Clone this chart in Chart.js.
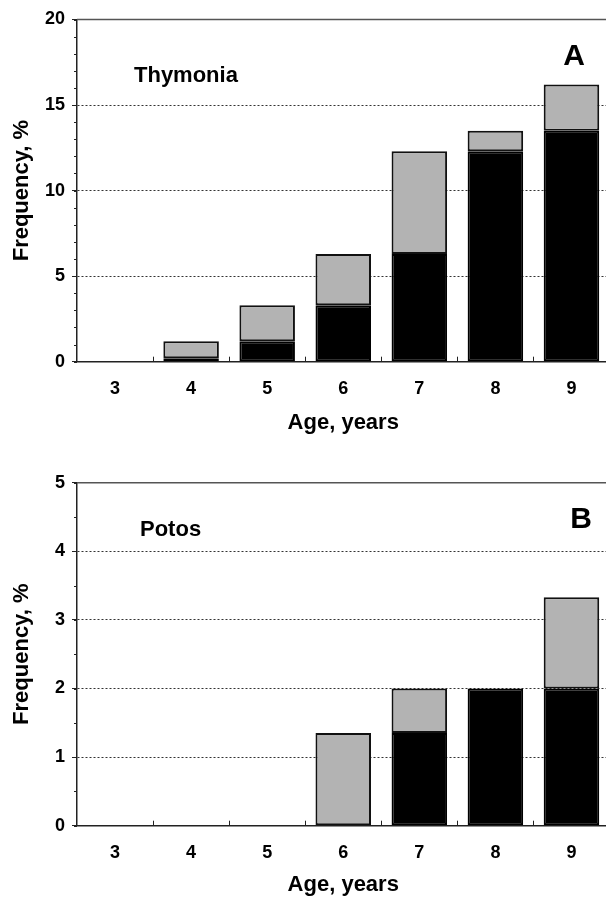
<!DOCTYPE html>
<html lang="en">
<head>
<meta charset="utf-8">
<title>Frequency by age</title>
<script src="https://cdn.jsdelivr.net/npm/chart.js@4.4.1/dist/chart.umd.min.js"></script>
<style>
  html, body { margin: 0; padding: 0; background: #fff; overflow: hidden; }
  canvas { display: block; }
</style>
</head>
<body>
<canvas id="chartA" width="612" height="440"></canvas>
<canvas id="chartB" width="612" height="461"></canvas>
<script>
const ages = ['3', '4', '5', '6', '7', '8', '9'];

// Panel A - Thymonia (black = lower part, grey = upper part of the stack)
const thymoniaBlack = [0, 0.2, 1.2, 3.3, 6.3, 12.3, 13.5];
const thymoniaGrey = [0, 1.0, 2.1, 3.0, 6.0, 1.2, 2.7];
const thymoniaTicks = [0, 5, 10, 15, 20];

// Panel B - Potos
const potosBlack = [0, 0, 0, 0, 1.35, 2.0, 2.0];
const potosGrey = [0, 0, 0, 1.35, 0.65, 0, 1.33];
const potosTicks = [0, 1, 2, 3, 4, 5];

(function() {
    'use strict';

    const FONT = '"Liberation Sans", Arial, Helvetica, sans-serif';

    document.addEventListener('DOMContentLoaded', () => {
        Chart.defaults.font.family = FONT;
        Chart.defaults.color = '#000';

        initChart('chartA', thymoniaBlack, thymoniaGrey, thymoniaTicks, {
            name: 'Thymonia', letter: 'A', minorStep: 1,
            top: 19.5, xHeight: 78.3, xTitlePad: 5.6,
            nameX: 57, nameY: 62.2, letterX: 35.5, letterY: 45.5
        });

        initChart('chartB', potosBlack, potosGrey, potosTicks, {
            name: 'Potos', letter: 'B', minorStep: 0.5,
            top: 42.7, xHeight: 75.3, xTitlePad: 4.6,
            nameX: 63, nameY: 53.3, letterX: 28.5, letterY: 45.6
        });
    });

    // top frame line, minor ticks, category ticks and panel labels
    const framePlugin = {
        id: 'frame',
        afterDraw(chart, args, opts) {
            const { ctx, chartArea: area, scales: { x, y } } = chart;
            ctx.save();

            ctx.strokeStyle = '#555';
            ctx.lineWidth = 1.5;
            ctx.beginPath();
            ctx.moveTo(area.left, area.top);
            ctx.lineTo(area.right, area.top);
            ctx.stroke();

            ctx.strokeStyle = '#222';
            ctx.lineWidth = 1;
            for (let v = y.min; v <= y.max + 1e-9; v += opts.minorStep) {
                const py = Math.round(y.getPixelForValue(v)) + 0.5;
                ctx.beginPath();
                ctx.moveTo(area.left - 3, py);
                ctx.lineTo(area.left, py);
                ctx.stroke();
            }

            for (let i = 1; i < ages.length; i++) {
                const px = Math.round(x.getPixelForValue(i - 0.5)) + 0.5;
                ctx.beginPath();
                ctx.moveTo(px, area.bottom);
                ctx.lineTo(px, area.bottom - 5);
                ctx.stroke();
            }

            ctx.fillStyle = '#000';
            ctx.textBaseline = 'alphabetic';
            ctx.textAlign = 'left';
            ctx.font = 'bold 22px ' + FONT;
            ctx.fillText(opts.name, area.left + opts.nameX, area.top + opts.nameY);

            ctx.textAlign = 'center';
            ctx.font = 'bold 30px ' + FONT;
            ctx.fillText(opts.letter, area.right - opts.letterX, area.top + opts.letterY);

            ctx.restore();
        }
    };

    function initChart(id, black, grey, ticks, panel) {
        const canvas = document.getElementById(id);
        const yMin = ticks[0];
        const yMax = ticks[ticks.length - 1];

        return new Chart(canvas, {
            type: 'bar',
            data: {
                labels: ages,
                datasets: [
                    {
                        label: 'black',
                        data: black,
                        backgroundColor: '#000',
                        borderColor: '#000',
                        borderWidth: 2,
                        borderSkipped: false
                    },
                    {
                        label: 'grey',
                        data: grey,
                        backgroundColor: '#b3b3b3',
                        borderColor: '#111',
                        borderWidth: 2,
                        borderSkipped: false
                    }
                ]
            },
            options: {
                responsive: false,
                animation: false,
                layout: {
                    padding: { top: panel.top, right: 2.5, bottom: 0, left: 0 }
                },
                datasets: {
                    bar: { categoryPercentage: 1, barPercentage: 0.73 }
                },
                plugins: {
                    legend: { display: false },
                    tooltip: { enabled: false },
                    frame: panel
                },
                scales: {
                    x: {
                        stacked: true,
                        grid: { display: false, drawTicks: false },
                        border: { display: true, color: '#222', width: 1.5 },
                        ticks: {
                            padding: 17,
                            color: '#000',
                            font: { size: 18, weight: 'bold' }
                        },
                        title: {
                            display: true,
                            text: 'Age, years',
                            color: '#000',
                            font: { size: 22, weight: 'bold', lineHeight: 1 },
                            padding: { top: 0, bottom: panel.xTitlePad }
                        },
                        afterFit: (scale) => { scale.height = panel.xHeight; }
                    },
                    y: {
                        stacked: true,
                        min: yMin,
                        max: yMax,
                        afterBuildTicks: (scale) => {
                            scale.ticks = ticks.map(v => ({ value: v }));
                        },
                        grid: {
                            color: (ctx) => {
                                const v = ctx.tick ? ctx.tick.value : yMin;
                                return (v > yMin && v < yMax) ? '#333' : 'rgba(0,0,0,0)';
                            },
                            lineWidth: 1,
                            drawTicks: true,
                            tickLength: 5,
                            tickColor: '#222',
                            tickBorderDash: []
                        },
                        border: { display: true, color: '#222', width: 1.5, dash: [2, 2] },
                        ticks: {
                            padding: 7,
                            color: '#000',
                            font: { size: 18, weight: 'bold' }
                        },
                        title: {
                            display: true,
                            text: 'Frequency, %',
                            color: '#000',
                            font: { size: 22, weight: 'bold', lineHeight: 1 },
                            padding: { top: 10.5, bottom: 0 }
                        },
                        afterFit: (scale) => { scale.width = 77; }
                    }
                }
            },
            plugins: [framePlugin]
        });
    }

})();
</script>
</body>
</html>
